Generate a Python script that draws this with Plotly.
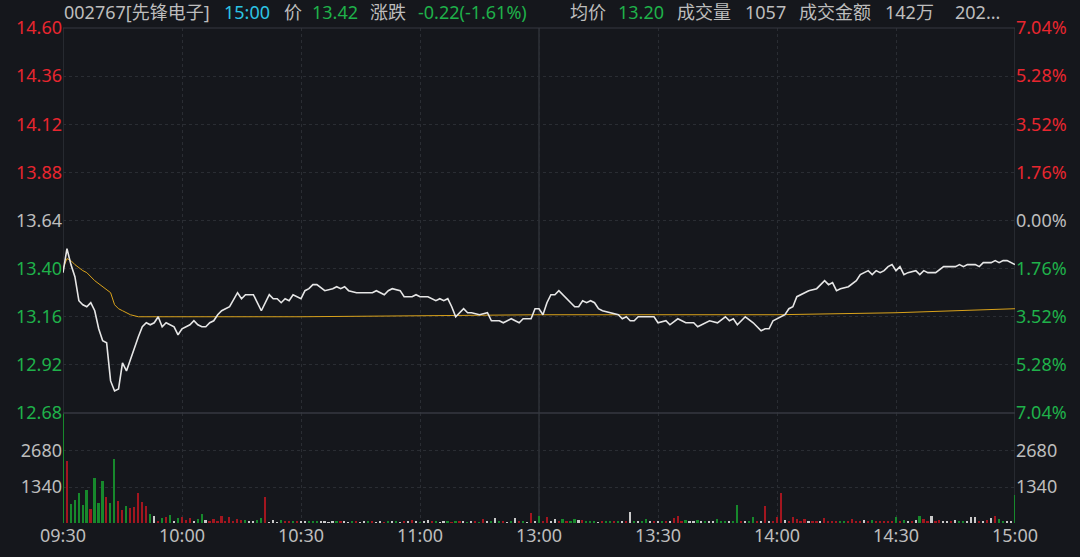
import plotly.graph_objects as go

# ---------------- data ----------------
price_time = [0,1,2,3,4,5,6,7,8,9,
              10,11,12,13,14,15,16,17,18,19,
              20,21,22,23,24,25,26,27,28,29,
              30,32,33,34,35,36,37,38,39,40,
              42,44,45,46,48,50,52,53,54,55,
              56,57,58,60,61,62,63,64,66,68,
              69,70,71,72,74,78,79,81,82,83,
              85,86,88,89,90,92,94,95,96,97,
              98,99,101,102,103,105,107,108,110,111,
              113,114,115,116,118,119,120,121,122,123,
              124,125,127,128,129,130,131,132,133,134,
              135,136,138,140,141,142,143,144,145,147,
              149,150,152,153,155,157,159,160,162,163,
              165,167,168,169,170,172,174,175,176,177,
              178,179,181,182,183,184,185,187,188,190,
              191,192,193,194,195,196,198,200,201,203,
              204,205,206,207,208,209,210,211,212,213,
              215,216,217,218,220,222,224,225,226,227,
              228,230,231,232,234,235,236,237,238,240]
price_value = [13.38,13.50,13.42,13.36,13.24,13.22,13.21,13.23,13.19,13.10,
               13.04,13.03,12.84,12.79,12.80,12.93,12.89,12.95,13.01,13.06,
               13.11,13.13,13.12,13.13,13.16,13.11,13.13,13.12,13.11,13.07,
               13.10,13.12,13.14,13.12,13.11,13.11,13.13,13.14,13.17,13.19,
               13.21,13.28,13.25,13.27,13.27,13.19,13.27,13.25,13.25,13.23,
               13.25,13.24,13.27,13.25,13.29,13.30,13.32,13.32,13.29,13.30,
               13.31,13.30,13.31,13.29,13.28,13.28,13.29,13.27,13.29,13.30,
               13.29,13.26,13.26,13.27,13.26,13.26,13.24,13.25,13.24,13.25,
               13.21,13.16,13.20,13.18,13.18,13.17,13.18,13.14,13.14,13.13,
               13.15,13.14,13.13,13.15,13.15,13.20,13.20,13.17,13.23,13.27,
               13.27,13.29,13.25,13.23,13.21,13.21,13.24,13.23,13.24,13.23,
               13.20,13.19,13.18,13.17,13.15,13.16,13.14,13.14,13.16,13.16,
               13.16,13.13,13.14,13.12,13.15,13.13,13.13,13.11,13.13,13.14,
               13.13,13.16,13.14,13.15,13.12,13.16,13.13,13.11,13.09,13.10,
               13.10,13.14,13.16,13.17,13.20,13.21,13.26,13.28,13.29,13.30,
               13.32,13.34,13.32,13.33,13.29,13.30,13.31,13.34,13.37,13.39,
               13.37,13.39,13.38,13.39,13.41,13.42,13.39,13.41,13.37,13.38,
               13.39,13.37,13.39,13.38,13.38,13.41,13.41,13.41,13.42,13.41,
               13.42,13.42,13.41,13.43,13.43,13.44,13.43,13.44,13.44,13.42]

avg_time = [0,1,2,3,5,6,8,10,12,13,14,15,17,19,20,40,60,90,120,150,180,210,240]
avg_value = [13.40,13.45,13.44,13.42,13.39,13.38,13.34,13.31,13.28,13.22,13.20,13.19,
             13.17,13.16,13.16,13.16,13.16,13.165,13.17,13.17,13.17,13.18,13.20]

volume = [4300,2290,720,870,1120,680,1240,520,1670,740,
          1550,950,740,2380,830,470,650,560,580,1120,
          770,650,350,270,60,170,210,300,40,170,
          220,120,190,50,150,340,120,90,150,70,
          250,70,210,90,150,100,120,50,60,100,
          200,950,30,100,30,120,50,70,40,90,
          60,40,80,50,60,40,50,30,40,70,
          40,50,30,60,40,30,50,40,60,30,
          40,30,50,40,70,30,40,50,120,40,
          30,40,120,50,40,30,60,40,30,50,
          40,60,30,50,40,30,150,40,60,190,
          50,40,30,60,200,40,60,30,370,80,
          270,60,220,40,150,70,160,50,40,150,
          120,100,40,60,50,30,60,40,50,40,
          60,40,50,410,40,60,40,150,60,40,
          40,60,50,40,190,270,60,120,50,40,
          120,40,50,60,40,150,60,40,50,60,
          660,40,60,50,220,60,40,650,50,60,
          220,1120,120,60,210,160,70,150,50,60,
          40,60,190,50,60,40,70,50,60,150,
          60,50,120,40,120,60,50,70,40,60,
          210,50,100,60,40,120,270,150,60,270,
          60,120,50,40,60,120,50,40,60,210,
          210,60,40,100,190,250,150,60,50,40,
          1030]
volume_dir = ("GRGGGGGRGG" "GRGGRRGRRR" "RRGWRGRGWG" "RRRWGGWRRR"
              "RRRRRRGWWG" "GRWWWGRRGR" "WWGGGWWWWG" "RWWGRWWGRW"
              "WRGWGWRWRW" "GWWRGWWGRG" "RWGWRGRWGW" "GRWGWRGWRW"
              "GRRWWRGRGG" "WRGGGWRGGR" "GWRWGWGGWR" "WGRWRRRGWW"
              "GWGWWGGGWG" "GRWGGRWRWR" "RRWRRRRRWR" "RWRRRRGGRR"
              "RRWRGRRRRR" "GRGWRWGRRW" "RRWWRWGGWW" "WRWRWRGGWW" "G")

prev_close = 13.64
price_ticks = [14.60, 14.36, 14.12, 13.88, 13.64, 13.40, 13.16, 12.92, 12.68]
pct_labels = ["7.04%", "5.28%", "3.52%", "1.76%", "0.00%", "1.76%", "3.52%", "5.28%", "7.04%"]
vol_ticks = [1340, 2680]
time_ticks = [0, 30, 60, 90, 120, 150, 180, 210, 240]
time_labels = ["09:30", "10:00", "10:30", "11:00", "13:00", "13:30", "14:00", "14:30", "15:00"]

# ---------------- style ----------------
BG = "#15171c"
GRID = "#2a2d33"
BORDER = "#363940"
RED = "#e8262f"
GREEN = "#1fb14a"
GRAY = "#bdbdbd"
CYAN = "#2cc3e3"
FONT = "Noto Sans, Noto Sans CJK SC, sans-serif"
bar_colors = {"R": "#a3161f", "G": "#17892c", "W": "#c9c9c9"}

W, H = 1080, 557
ML, MR, MT, MB = 63, 65, 28, 34
plot_h = H - MT - MB
vol_frac = 110 / plot_h


def tick_color(v):
    if v > prev_close + 1e-9:
        return RED
    if v < prev_close - 1e-9:
        return GREEN
    return GRAY


left_text = ['<span style="color:%s">%.2f</span>' % (tick_color(v), v) for v in price_ticks]
right_text = ['<span style="color:%s">%s</span>' % (tick_color(v), t) for v, t in zip(price_ticks, pct_labels)]

fig = go.Figure()

fig.add_trace(go.Bar(
    x=list(range(len(volume))), y=volume, xaxis="x", yaxis="y",
    marker=dict(color=[bar_colors[c] for c in volume_dir], line=dict(width=0)),
    width=0.42, hoverinfo="skip", showlegend=False))

fig.add_trace(go.Scatter(
    x=avg_time, y=avg_value, xaxis="x", yaxis="y2", mode="lines",
    line=dict(color="#d9a21b", width=1), hoverinfo="skip", showlegend=False))

fig.add_trace(go.Scatter(
    x=price_time, y=price_value, xaxis="x", yaxis="y2", mode="lines",
    line=dict(color="#e6e6e6", width=1.6), hoverinfo="skip", showlegend=False))

axis_font = dict(family=FONT, size=18, color=GRAY)

fig.update_layout(
    width=W, height=H,
    margin=dict(l=ML, r=MR, t=MT, b=MB, autoexpand=False),
    paper_bgcolor=BG, plot_bgcolor=BG,
    bargap=0,
    xaxis=dict(domain=[0, 1], range=[0, 240], anchor="y", automargin=False,
               tickmode="array", tickvals=time_ticks, ticktext=time_labels,
               showgrid=True, gridcolor=GRID, griddash="dot", gridwidth=1,
               zeroline=False, showline=False, ticks="",
               tickfont=dict(family=FONT, size=18, color=GRAY)),
    yaxis=dict(domain=[0, vol_frac], range=[0, 4094], anchor="x", automargin=False,
               tickmode="array", tickvals=vol_ticks,
               showgrid=True, gridcolor=GRID, griddash="dot", zeroline=False,
               ticks="", tickfont=axis_font),
    yaxis2=dict(domain=[vol_frac, 1], range=[12.68, 14.60], anchor="x", automargin=False,
                tickmode="array", tickvals=price_ticks, ticktext=left_text,
                showgrid=True, gridcolor=GRID, griddash="dot", zeroline=False,
                ticks="", tickfont=axis_font),
    yaxis3=dict(overlaying="y2", side="right", range=[12.68, 14.60], anchor="x",
                automargin=False,
                tickmode="array", tickvals=price_ticks, ticktext=right_text,
                showgrid=False, zeroline=False, ticks="", tickfont=axis_font),
    yaxis4=dict(overlaying="y", side="right", range=[0, 4094], anchor="x",
                automargin=False,
                tickmode="array", tickvals=vol_ticks,
                showgrid=False, zeroline=False, ticks="", tickfont=axis_font),
)

# invisible traces to activate right axes
fig.add_trace(go.Scatter(x=[0], y=[12.68], xaxis="x", yaxis="y3", mode="markers",
                         marker=dict(opacity=0), hoverinfo="skip", showlegend=False))
fig.add_trace(go.Scatter(x=[0], y=[0], xaxis="x", yaxis="y4", mode="markers",
                         marker=dict(opacity=0), hoverinfo="skip", showlegend=False))

# frame lines
fig.add_shape(type="line", xref="paper", yref="paper", x0=0, x1=1, y0=vol_frac, y1=vol_frac,
              line=dict(color=BORDER, width=1.5))
fig.add_shape(type="line", xref="paper", yref="paper", x0=0, x1=1, y0=1, y1=1,
              line=dict(color=BORDER, width=1))
for xv in (0, 120, 240):
    fig.add_shape(type="line", xref="x", yref="paper", x0=xv, x1=xv, y0=0, y1=1,
                  line=dict(color="#3b3e45", width=1), layer="below")

# header
header = [("002767[先锋电子]", GRAY, 62), ("15:00", CYAN, 222), ("价", GRAY, 282),
          ("13.42", GREEN, 310), ("涨跌", GRAY, 368), ("-0.22(-1.61%)", GREEN, 416),
          ("均价", GRAY, 568), ("13.20", GREEN, 616), ("成交量", GRAY, 675),
          ("1057", GRAY, 743), ("成交金额", GRAY, 797), ("142万", GRAY, 883),
          ("202...", GRAY, 953)]
for text, color, px in header:
    fig.add_annotation(text=text, xref="paper", yref="paper",
                       x=(px - ML) / (W - ML - MR), y=1 + (MT - 12) / plot_h,
                       xanchor="left", yanchor="middle", showarrow=False,
                       font=dict(family=FONT, size=18, color=color))

fig.write_html(
    "out.html",
    config={"displayModeBar": False},
    post_script="document.body.style.margin='0';document.body.style.background='%s';"
                "document.documentElement.style.background='%s';document.body.style.overflow='hidden';" % (BG, BG),
)
